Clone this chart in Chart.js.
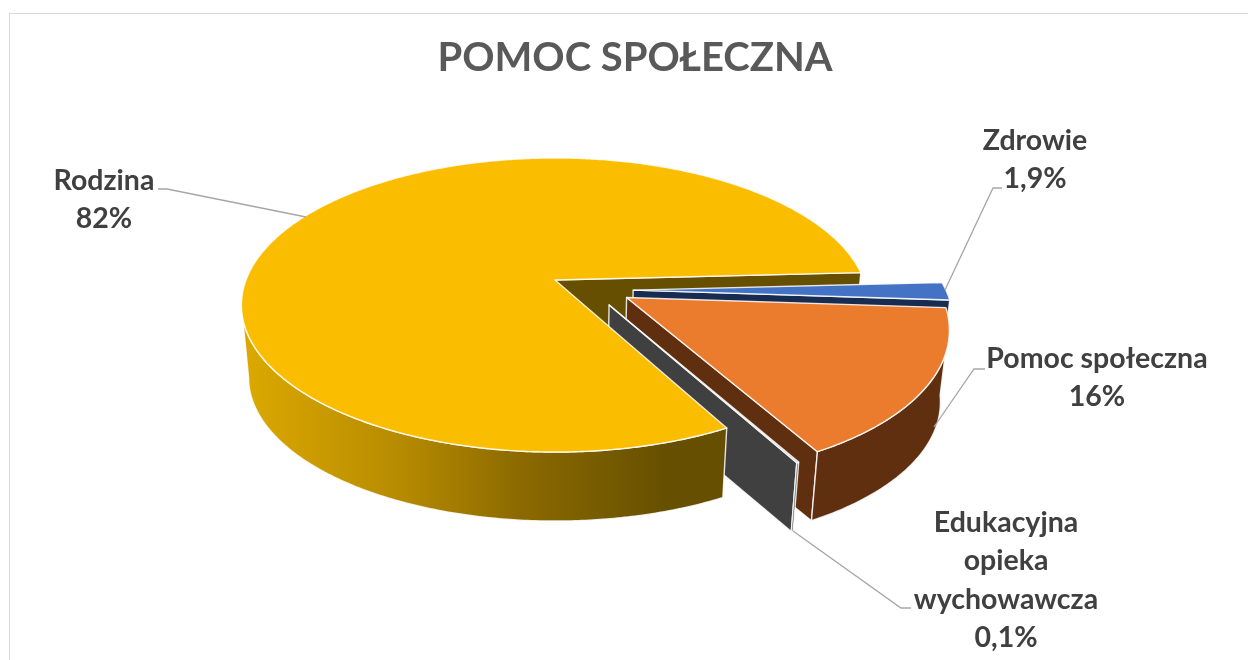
<!DOCTYPE html>
<html lang="pl">
<head>
<meta charset="utf-8">
<title>Pomoc społeczna</title>
<script src="https://cdn.jsdelivr.net/npm/chart.js@4"></script>
<style>
  html, body { margin: 0; padding: 0; background: #fff; }
  #frame { position: absolute; left: 9px; top: 13px; right: 0; bottom: 0; border-left: 1.5px solid #d9d9d9; border-top: 1.5px solid #d9d9d9; }
  canvas { position: absolute; left: 0; top: 0; }
</style>
</head>
<body>
<div id="frame"></div>
<canvas id="pieChart" width="1248" height="660"></canvas>
<script>
// Dane wykresu
const categories = ['Zdrowie', 'Pomoc społeczna', ['Edukacyjna', 'opieka', 'wychowawcza'], 'Rodzina'];
const values = [1.9, 16, 0.1, 82];
const valueLabels = ['1,9%', '16%', '0,1%', '82%'];

// Kolory: góra plastra i jego ścianka
const topColors = ['#4472c4', '#eb7b2d', '#a5a5a5', '#fbbd00'];
const wallColors = ['#172c50', '#5f2f10', '#404040', '#665000'];

// Rzut perspektywiczny koła (u, v w promieniach) na ekran
const persp = { cx: 555, k: -0.17 };
const topPlane = { y0: 280, A: 142.8, B: 309 };
const bottomPlane = { y0: 353, A: 139.5, B: 302 };
// Przesunięcie wysuniętych plastrów, w promieniach
const explode = [[0.25, 0.07], [0.227, 0.12], [0.17, 0.17], [0, 0]];
// Zakres kątów, dla których zewnętrzna ścianka jest widoczna
const frontFrom = 0.17;
const frontTo = Math.PI - 0.17;

// Etykiety: środek tekstu, linia bazowa, linia odniesienia
const labelX = [1035, 1097, 1006, 104];
const labelY = [150, 368, 532, 190];
const lineHeight = 38.3;
const leaders = [
  [[945, 290], [993, 188], [1002, 188]],
  [[934, 427], [974, 369], [985, 369]],
  [[793, 531], [901, 608], [911, 608]],
  [[158, 189], [167, 189], [306, 217]]
];

function project(u, v, plane) {
  const d = 1 + persp.k * v;
  return [persp.cx + plane.B * u / d, plane.y0 + plane.A * v / d];
}

function arcPoints(a0, a1, ex, plane) {
  const pts = [];
  const steps = Math.max(2, Math.ceil(Math.abs(a1 - a0) / 0.01));
  for (let i = 0; i <= steps; i++) {
    const a = a0 + (a1 - a0) * i / steps;
    pts.push(project(Math.cos(a) + ex[0], Math.sin(a) + ex[1], plane));
  }
  return pts;
}

function fillPoly(ctx, pts, fill) {
  ctx.beginPath();
  pts.forEach((p, i) => i ? ctx.lineTo(p[0], p[1]) : ctx.moveTo(p[0], p[1]));
  ctx.closePath();
  ctx.fillStyle = fill;
  ctx.fill();
  ctx.strokeStyle = 'rgba(255,255,255,0.85)';
  ctx.lineWidth = 1.4;
  ctx.stroke();
}

// Ścianka wewnętrzna przy końcowej krawędzi plastra
function drawWall(ctx, arc, i) {
  const ex = explode[i];
  const a = arc.endAngle;
  const u = Math.cos(a) + ex[0], v = Math.sin(a) + ex[1];
  fillPoly(ctx, [
    project(ex[0], ex[1], topPlane),
    project(u, v, topPlane),
    project(u, v, bottomPlane),
    project(ex[0], ex[1], bottomPlane)
  ], wallColors[i]);
}

function rimFill(ctx, i) {
  if (i !== 3) return wallColors[i];
  const g = ctx.createLinearGradient(248, 0, 722, 0);
  g.addColorStop(0, '#dba800');
  g.addColorStop(0.33, '#b58a00');
  g.addColorStop(0.57, '#8c6a00');
  g.addColorStop(0.88, '#665000');
  g.addColorStop(1, '#665000');
  return g;
}

function drawRimAndTop(ctx, arc, i) {
  const ex = explode[i];
  const from = Math.max(arc.startAngle, frontFrom);
  const to = Math.min(arc.endAngle, frontTo);
  if (to > from) {
    const upper = arcPoints(from, to, ex, topPlane);
    const lower = arcPoints(to, from, ex, bottomPlane);
    fillPoly(ctx, upper.concat(lower), rimFill(ctx, i));
  }
  const top = [project(ex[0], ex[1], topPlane)].concat(arcPoints(arc.startAngle, arc.endAngle, ex, topPlane));
  fillPoly(ctx, top, topColors[i]);
}

const pie3d = {
  id: 'pie3d',
  // kąty plastrów bierzemy z elementów Chart.js, rysujemy je w perspektywie
  beforeDatasetsDraw(chart) {
    const ctx = chart.ctx;
    const arcs = chart.getDatasetMeta(0).data;
    ctx.save();
    ctx.lineJoin = 'round';
    drawWall(ctx, arcs[3], 3);
    [0, 1, 2].forEach(i => {
      drawWall(ctx, arcs[i], i);
      drawRimAndTop(ctx, arcs[i], i);
    });
    drawRimAndTop(ctx, arcs[3], 3);
    ctx.restore();
    return false;
  },
  afterDraw(chart) {
    const ctx = chart.ctx;
    ctx.save();
    ctx.strokeStyle = '#a6a6a6';
    ctx.lineWidth = 1.3;
    leaders.forEach(line => {
      ctx.beginPath();
      line.forEach((p, i) => i ? ctx.lineTo(p[0], p[1]) : ctx.moveTo(p[0], p[1]));
      ctx.stroke();
    });
    ctx.fillStyle = '#404040';
    ctx.font = 'bold 28.5px Lato';
    ctx.textAlign = 'center';
    ctx.textBaseline = 'alphabetic';
    chart.data.labels.forEach((label, i) => {
      const lines = [].concat(label, valueLabels[i]);
      lines.forEach((text, j) => ctx.fillText(text, labelX[i], labelY[i] + j * lineHeight));
    });
    ctx.restore();
  }
};

const ctx = document.getElementById('pieChart').getContext('2d');

new Chart(ctx, {
  type: 'pie',
  data: {
    labels: categories,
    datasets: [{
      data: values,
      backgroundColor: topColors,
      borderColor: '#ffffff',
      borderWidth: 1
    }]
  },
  options: {
    responsive: false,
    animation: false,
    rotation: 87,
    layout: { padding: { left: 22, top: 34 } },
    plugins: {
      legend: { display: false },
      tooltip: { enabled: false },
      title: {
        display: true,
        text: 'POMOC SPOŁECZNA',
        color: '#595959',
        font: { family: 'Lato', size: 40, weight: 'bold' },
        padding: 0
      }
    }
  },
  plugins: [pie3d]
});
</script>
</body>
</html>
